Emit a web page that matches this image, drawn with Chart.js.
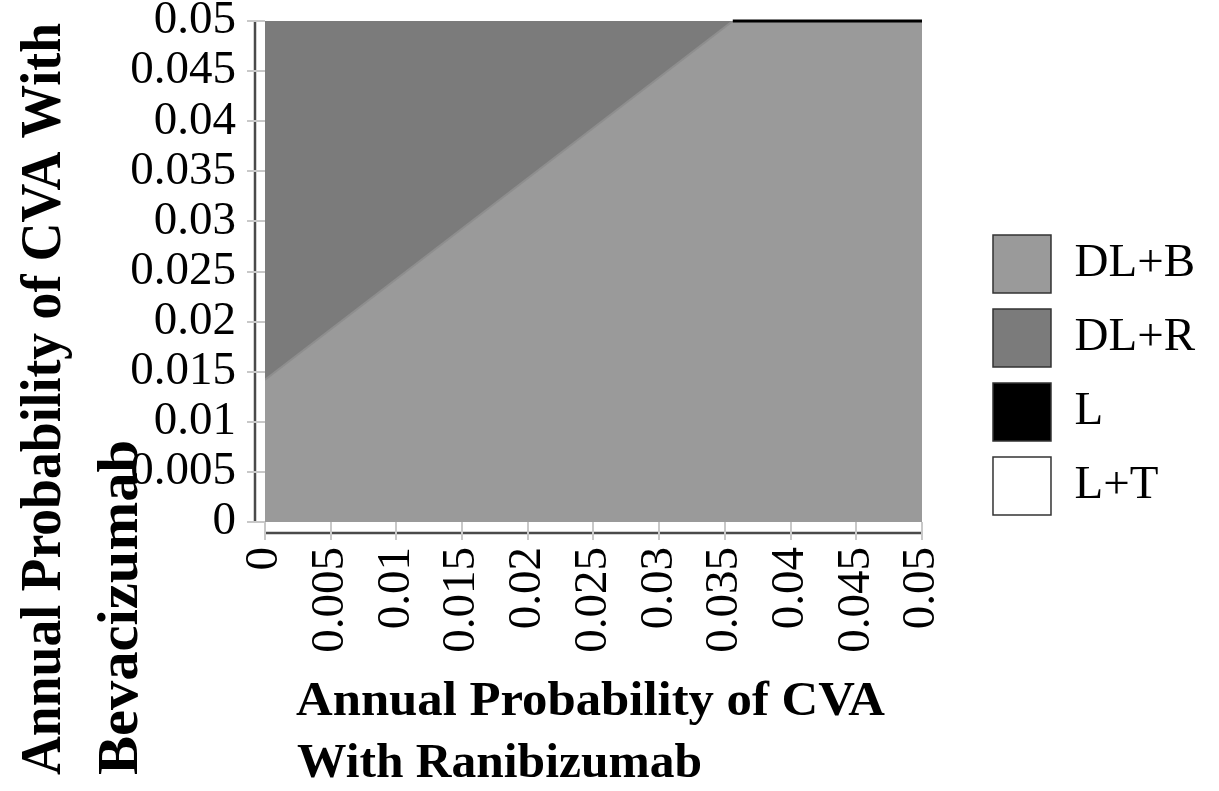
<!DOCTYPE html>
<html>
<head>
<meta charset="utf-8">
<script src="https://cdn.jsdelivr.net/npm/chart.js@4.4.1/dist/chart.umd.min.js"></script>
<style>
  html, body { margin: 0; padding: 0; background: #fff; }
</style>
</head>
<body>
<canvas id="chart" width="1219" height="791"></canvas>
<script>
// tick positions and their labels
const xTicks = [0, 0.005, 0.01, 0.015, 0.02, 0.025, 0.03, 0.035, 0.04, 0.045, 0.05];
const xTickLabels = ['0', '0.005', '0.01', '0.015', '0.02', '0.025', '0.03', '0.035', '0.04', '0.045', '0.05'];
const yTicks = [0, 0.005, 0.01, 0.015, 0.02, 0.025, 0.03, 0.035, 0.04, 0.045, 0.05];
const yTickLabels = ['0', '0.005', '0.01', '0.015', '0.02', '0.025', '0.03', '0.035', '0.04', '0.045', '0.05'];

// strategy regions
const regionNames = ['DL+B', 'DL+R', 'L', 'L+T'];
const regionColors = ['#9a9a9a', '#7b7b7b', '#000000', '#ffffff'];

// DL+B covers the whole grid
const dlbX = [0, 0.05];
const dlbY = [0.05, 0.05];
// DL+R / DL+B boundary, DL+R above it
const boundaryX = [0, 0.0356];
const boundaryY = [0.0142, 0.05];
// thin L strip along the top edge
const lX = [0.0356, 0.05];
const lY = [0.05, 0.05];

const pts = (xs, ys) => xs.map((x, i) => ({x: x, y: ys[i]}));

const serif = "'Liberation Serif', 'Times New Roman', serif";

// draws text stretched/squeezed along its direction to a target length
function fitText(ctx, text, len) {
  const w = ctx.measureText(text).width;
  ctx.save();
  ctx.scale(len / w, 1);
  ctx.fillText(text, 0, 0);
  ctx.restore();
}

const axisLines = {
  id: 'axisLines',
  beforeDraw(chart) {
    const {ctx, chartArea} = chart;
    ctx.save();
    ctx.strokeStyle = '#4a4a4a';
    ctx.lineWidth = 2.5;
    ctx.beginPath();
    ctx.moveTo(chartArea.left - 10, chartArea.top);
    ctx.lineTo(chartArea.left - 10, chartArea.bottom);
    ctx.moveTo(chartArea.left, chartArea.bottom + 11);
    ctx.lineTo(chartArea.right, chartArea.bottom + 11);
    ctx.stroke();
    ctx.restore();
  },
  afterDraw(chart) {
    const {ctx} = chart;
    ctx.save();
    ctx.fillStyle = '#000';
    ctx.textBaseline = 'alphabetic';
    ctx.textAlign = 'left';

    // x title
    ctx.font = 'bold 48px ' + serif;
    ctx.save();
    ctx.translate(296, 715);
    fitText(ctx, 'Annual Probability of CVA', 589);
    ctx.restore();
    ctx.save();
    ctx.translate(297, 777);
    fitText(ctx, 'With Ranibizumab', 405);
    ctx.restore();

    // y title, rotated
    ctx.font = 'bold 58px ' + serif;
    ctx.save();
    ctx.translate(60, 775);
    ctx.rotate(-Math.PI / 2);
    fitText(ctx, 'Annual Probability of CVA With', 752);
    ctx.restore();
    ctx.save();
    ctx.translate(137, 775);
    ctx.rotate(-Math.PI / 2);
    fitText(ctx, 'Bevacizumab', 335);
    ctx.restore();
    ctx.restore();
  }
};

const ctx = document.getElementById('chart').getContext('2d');

const chart = new Chart(ctx, {
  type: 'line',
  data: {
    datasets: [
      {
        label: regionNames[0],
        data: pts(dlbX, dlbY),
        backgroundColor: regionColors[0],
        borderWidth: 0,
        fill: 'origin',
        order: 3,
      },
      {
        label: regionNames[1],
        data: pts(boundaryX, boundaryY),
        backgroundColor: regionColors[1],
        borderColor: '#8e8e8e',
        borderWidth: 2,
        fill: 'end',
        order: 2,
      },
      {
        label: regionNames[2],
        data: pts(lX, lY),
        backgroundColor: regionColors[2],
        borderColor: regionColors[2],
        borderWidth: 3,
        fill: false,
        clip: false,
        order: 1,
      },
      {
        label: regionNames[3],
        data: [],
        backgroundColor: regionColors[3],
        borderColor: '#333',
        fill: false,
        order: 4,
      },
    ],
  },
  options: {
    responsive: false,
    animation: false,
    devicePixelRatio: 1,
    events: [],
    layout: {
      padding: {top: 21, bottom: 62, left: 0, right: 14},
    },
    elements: {
      point: {radius: 0},
      line: {tension: 0},
    },
    scales: {
      x: {
        type: 'linear',
        min: 0,
        max: 0.05,
        afterBuildTicks: (s) => { s.ticks = xTicks.map(v => ({value: v})); },
        afterFit: (s) => { s.height = 207; },
        ticks: {
          autoSkip: false,
          minRotation: 90,
          maxRotation: 90,
          padding: 7,
          color: '#000',
          font: {family: serif, size: 47},
          callback: (v, i) => xTickLabels[i],
        },
        grid: {drawOnChartArea: false, tickLength: 18, color: '#c8c8c8', lineWidth: 2},
        border: {display: false},
      },
      y: {
        type: 'linear',
        min: 0,
        max: 0.05,
        afterBuildTicks: (s) => { s.ticks = yTicks.map(v => ({value: v})); },
        afterFit: (s) => { s.width = 265; s.paddingTop = 0; s.paddingBottom = 0; },
        ticks: {
          autoSkip: false,
          padding: 11,
          color: '#000',
          font: {family: serif, size: 47},
          callback: (v, i) => yTickLabels[i],
        },
        grid: {drawOnChartArea: false, tickLength: 18, color: '#c8c8c8', lineWidth: 2},
        border: {display: false},
      },
      gap: {
        type: 'linear',
        position: 'right',
        display: true,
        afterFit: (s) => { s.width = 55; s.paddingTop = 0; s.paddingBottom = 0; },
        ticks: {display: false},
        grid: {display: false},
        border: {display: false},
      },
    },
    plugins: {
      tooltip: {enabled: false},
      legend: {
        position: 'right',
        maxWidth: 240,
        labels: {
          boxWidth: 58,
          boxHeight: 58,
          padding: 16,
          color: '#000',
          font: {family: serif, size: 47},
          sort: (a, b) => a.datasetIndex - b.datasetIndex,
          generateLabels: (chart) => {
            const items = Chart.defaults.plugins.legend.labels.generateLabels(chart);
            return items.map(it => Object.assign(it, {
              fillStyle: regionColors[it.datasetIndex],
              strokeStyle: '#333',
              lineWidth: 1.5,
              lineDash: [],
              hidden: false,
            }));
          },
        },
      },
    },
  },
  plugins: [axisLines],
});
</script>
</body>
</html>
